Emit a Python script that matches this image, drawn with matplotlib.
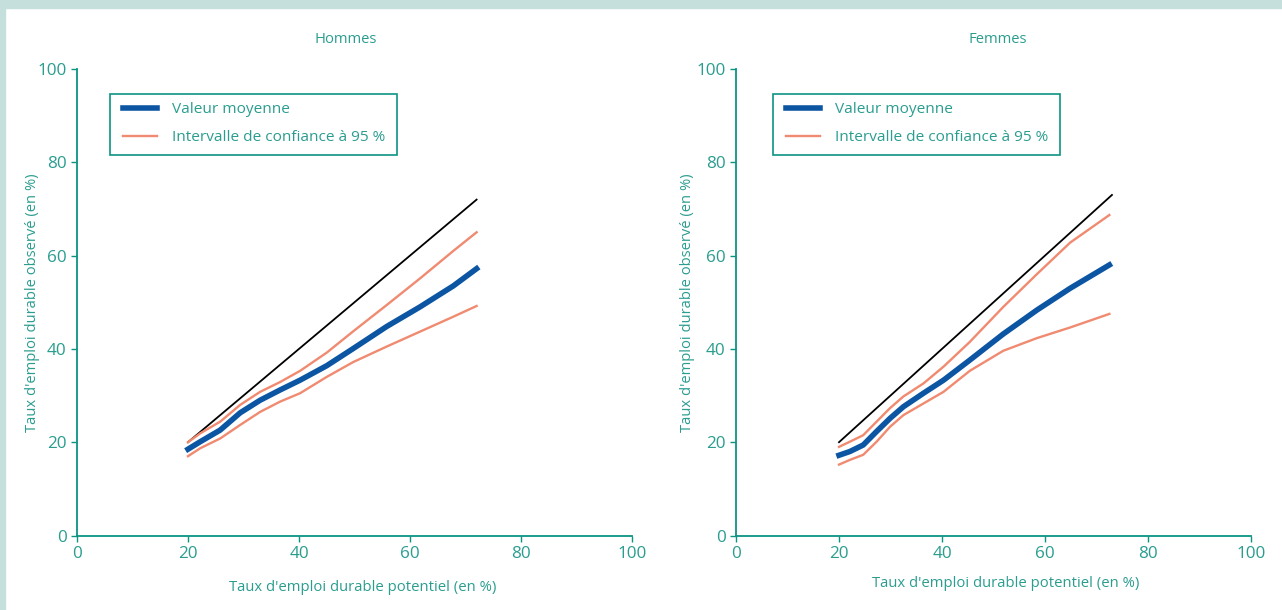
import numpy as np
import matplotlib
matplotlib.use("Agg")
import matplotlib.pyplot as plt
from matplotlib.patches import Rectangle

plt.rcParams["font.family"] = ["Open Sans", "DejaVu Sans"]

TEAL_TXT = "#2a9d8f"
TEAL_AX = "#0c9482"
BLUE = "#0b55a3"
SALMON = "#f08a70"
STRIP = "#c5e0dc"

men_x = [20, 22.2, 25.8, 29.4, 33.0, 36.6, 40.2, 45.0, 49.8, 55.8, 61.8, 67.8, 72]
men_mean = [18.5, 20.1, 22.6, 26.3, 29.0, 31.2, 33.3, 36.4, 40.1, 44.8, 49.0, 53.5, 57.2]
men_upper = [20.0, 21.9, 24.4, 28.0, 30.8, 32.9, 35.3, 39.2, 43.8, 49.4, 55.1, 61.0, 65.0]
men_lower = [17.0, 18.7, 20.8, 23.7, 26.5, 28.7, 30.5, 34.0, 37.2, 40.5, 43.7, 46.9, 49.2]
men_diag = [20, 72]

women_x = [20, 22.1, 24.7, 27.3, 29.9, 32.5, 36.4, 40.3, 45.4, 51.9, 58.4, 64.9, 72.5]
women_mean = [17.2, 18.0, 19.4, 22.3, 25.1, 27.6, 30.5, 33.3, 37.6, 43.2, 48.3, 53.0, 58.0]
women_upper = [19.0, 20.1, 21.5, 24.4, 27.3, 29.8, 32.6, 36.2, 41.5, 49.0, 56.0, 62.8, 68.7]
women_lower = [15.2, 16.2, 17.3, 20.1, 23.3, 25.8, 28.3, 30.8, 35.3, 39.6, 42.3, 44.6, 47.5]
women_diag = [20, 73]

ticks = [0, 20, 40, 60, 80, 100]
xlabel = "Taux d'emploi durable potentiel (en %)"
ylabel = "Taux d'emploi durable observé (en %)"


def draw_panel(ax, title, x, mean, upper, lower, diag, title_x, xlab_pos, ylab_x,
               leg_box, leg_anchor):
    ax.plot(diag, diag, color="black", lw=1.3)
    ax.plot(x, upper, color=SALMON, lw=1.7, label="Intervalle de confiance à 95 %")
    ax.plot(x, lower, color=SALMON, lw=1.7)
    ax.plot(x, mean, color=BLUE, lw=4.0, label="Valeur moyenne")

    ax.set_xlim(0, 100)
    ax.set_ylim(0, 100)
    ax.set_xticks(ticks)
    ax.set_yticks(ticks)
    for s in ["top", "right"]:
        ax.spines[s].set_visible(False)
    for s in ["left", "bottom"]:
        ax.spines[s].set_color(TEAL_AX)
        ax.spines[s].set_linewidth(1.3)
    ax.tick_params(colors=TEAL_AX, labelcolor=TEAL_TXT, labelsize=12.3, length=4, width=1)

    ax.text(title_x, 1.064, title, transform=ax.transAxes, ha="center", va="center",
            color=TEAL_TXT, fontsize=10.6)
    ax.text(xlab_pos[0], xlab_pos[1], xlabel, transform=ax.transAxes, ha="center",
            va="center", color=TEAL_TXT, fontsize=10.7)
    ax.text(ylab_x, 0.5, ylabel, transform=ax.transAxes, ha="center", va="center",
            rotation=90, color=TEAL_TXT, fontsize=10.6)

    # legend frame drawn by hand so its padding can match the original
    ax.add_patch(Rectangle((leg_box[0], leg_box[1]), leg_box[2], leg_box[3],
                           transform=ax.transAxes, fill=False, edgecolor=TEAL_AX,
                           lw=1.2, clip_on=False))
    handles, labels = ax.get_legend_handles_labels()
    ax.legend(handles[::-1], labels[::-1], loc="upper left", bbox_to_anchor=leg_anchor,
              frameon=False, fontsize=11.1, labelcolor=TEAL_TXT,
              handlelength=2.2, handletextpad=1.0, borderpad=0,
              labelspacing=0.86, borderaxespad=0)


fig = plt.figure(figsize=(12.82, 6.10), dpi=100)
fig.patches.append(Rectangle((0, 1 - 8 / 610), 1, 8 / 610, transform=fig.transFigure,
                             color=STRIP, zorder=0))
fig.patches.append(Rectangle((0, 0), 5 / 1282, 1, transform=fig.transFigure,
                             color=STRIP, zorder=0))

ax1 = fig.add_axes([77 / 1282, 1 - 535.5 / 610, 555 / 1282, 466.5 / 610])
ax2 = fig.add_axes([736 / 1282, 1 - 535.5 / 610, 515 / 1282, 466.5 / 610])

draw_panel(ax1, "Hommes", men_x, men_mean, men_upper, men_lower, men_diag,
           0.485, (0.515, -0.111), -0.081,
           (0.0595, 0.815, 287 / 555, 0.131), (0.0829, 0.929))
draw_panel(ax2, "Femmes", women_x, women_mean, women_upper, women_lower, women_diag,
           0.509, (0.524, -0.102), -0.095,
           (0.0718, 0.815, 287 / 515, 0.131), (0.097, 0.929))

fig.savefig("out.png", dpi=100)
